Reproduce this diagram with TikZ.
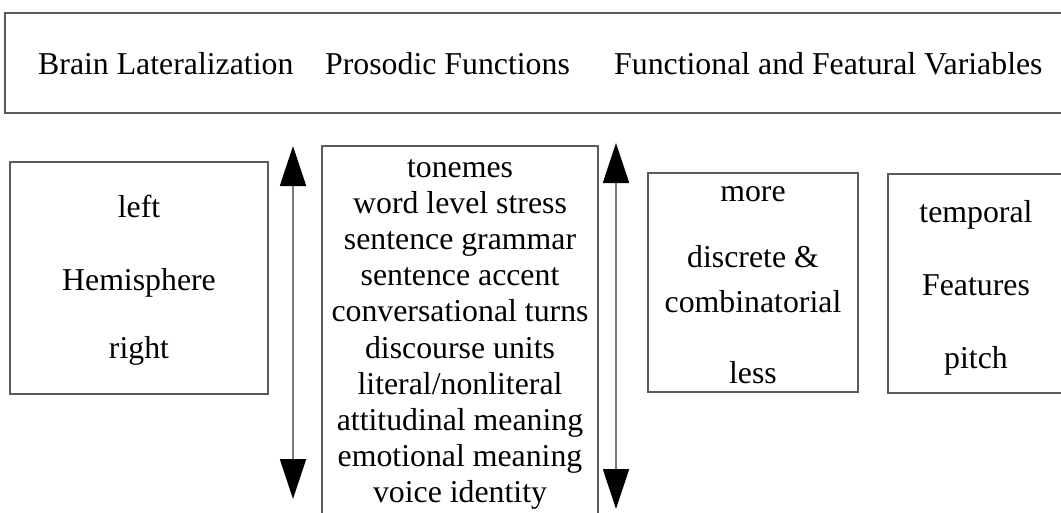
\documentclass[tikz,border=0pt]{standalone}
\usepackage{fontspec}
\setmainfont{Liberation Serif}
\usetikzlibrary{arrows.meta}
\definecolor{boxline}{HTML}{5A5A5A}
\definecolor{shaft}{HTML}{7A7A7A}
\begin{document}
\begin{tikzpicture}[x=1pt,y=-1pt,
  frame/.style={draw=boxline,line width=1.4pt,fill=none},
  lbl/.style={inner sep=0pt,anchor=base,font=\fontsize{31.8}{36.2}\selectfont},
  headtip/.style={Triangle[length=40pt,width=26pt,fill=black,color=black]},
  dbl/.style={draw=shaft,line width=1.8pt,{Triangle[length=40pt,width=26pt,fill=black,color=black]}-{Triangle[length=40pt,width=26pt,fill=black,color=black]}}]
\clip (0,0) rectangle (1061,512);
\fill[white] (0,0) rectangle (1061,512);

% heading band
\draw[frame] (5,13) rectangle (1080,113);
\node[lbl,anchor=base west] (hBL) at (38,74) {Brain Lateralization};
\node[lbl,anchor=base west] (hPF) at (325,74) {Prosodic Functions};
\node[lbl,anchor=base west] (hFV) at (614,74) {Functional and Featural Variables};

% hemisphere box
\draw[frame] (10,162) rectangle (268,394);
\node[lbl] (hl) at (139,217) {left};
\node[lbl] (hh) at (139,290) {Hemisphere};
\node[lbl] (hr) at (139,358) {right};

% prosodic functions list
\draw[frame] (322,146) rectangle (598,540);
\foreach \t [count=\i] in {tonemes,word level stress,sentence grammar,sentence accent,conversational turns,discourse units,literal/nonliteral,attitudinal meaning,emotional meaning,voice identity}
  \node[lbl] (pf\i) at (460,{177+36.2*(\i-1)}) {\t};

% discreteness box
\draw[frame] (648,173) rectangle (858,392);
\node[lbl] (dm) at (753,201) {more};
\node[lbl] (dd) at (753,267) {discrete \&};
\node[lbl] (dc) at (753,312) {combinatorial};
\node[lbl] (dl) at (753,383) {less};

% features box
\draw[frame] (888,174) rectangle (1064,393);
\node[lbl] (ft) at (976,222) {temporal};
\node[lbl] (ff) at (976,295) {Features};
\node[lbl] (fp) at (976,368) {pitch};

% double-headed scale arrows
\coordinate (a1t) at (293,146);
\coordinate (a1b) at (293,499);
\coordinate (a2t) at (616,143);
\coordinate (a2b) at (616,509);
\draw[dbl] (a1t) -- (a1b);
\draw[dbl] (a2t) -- (a2b);
\end{tikzpicture}
\end{document}
